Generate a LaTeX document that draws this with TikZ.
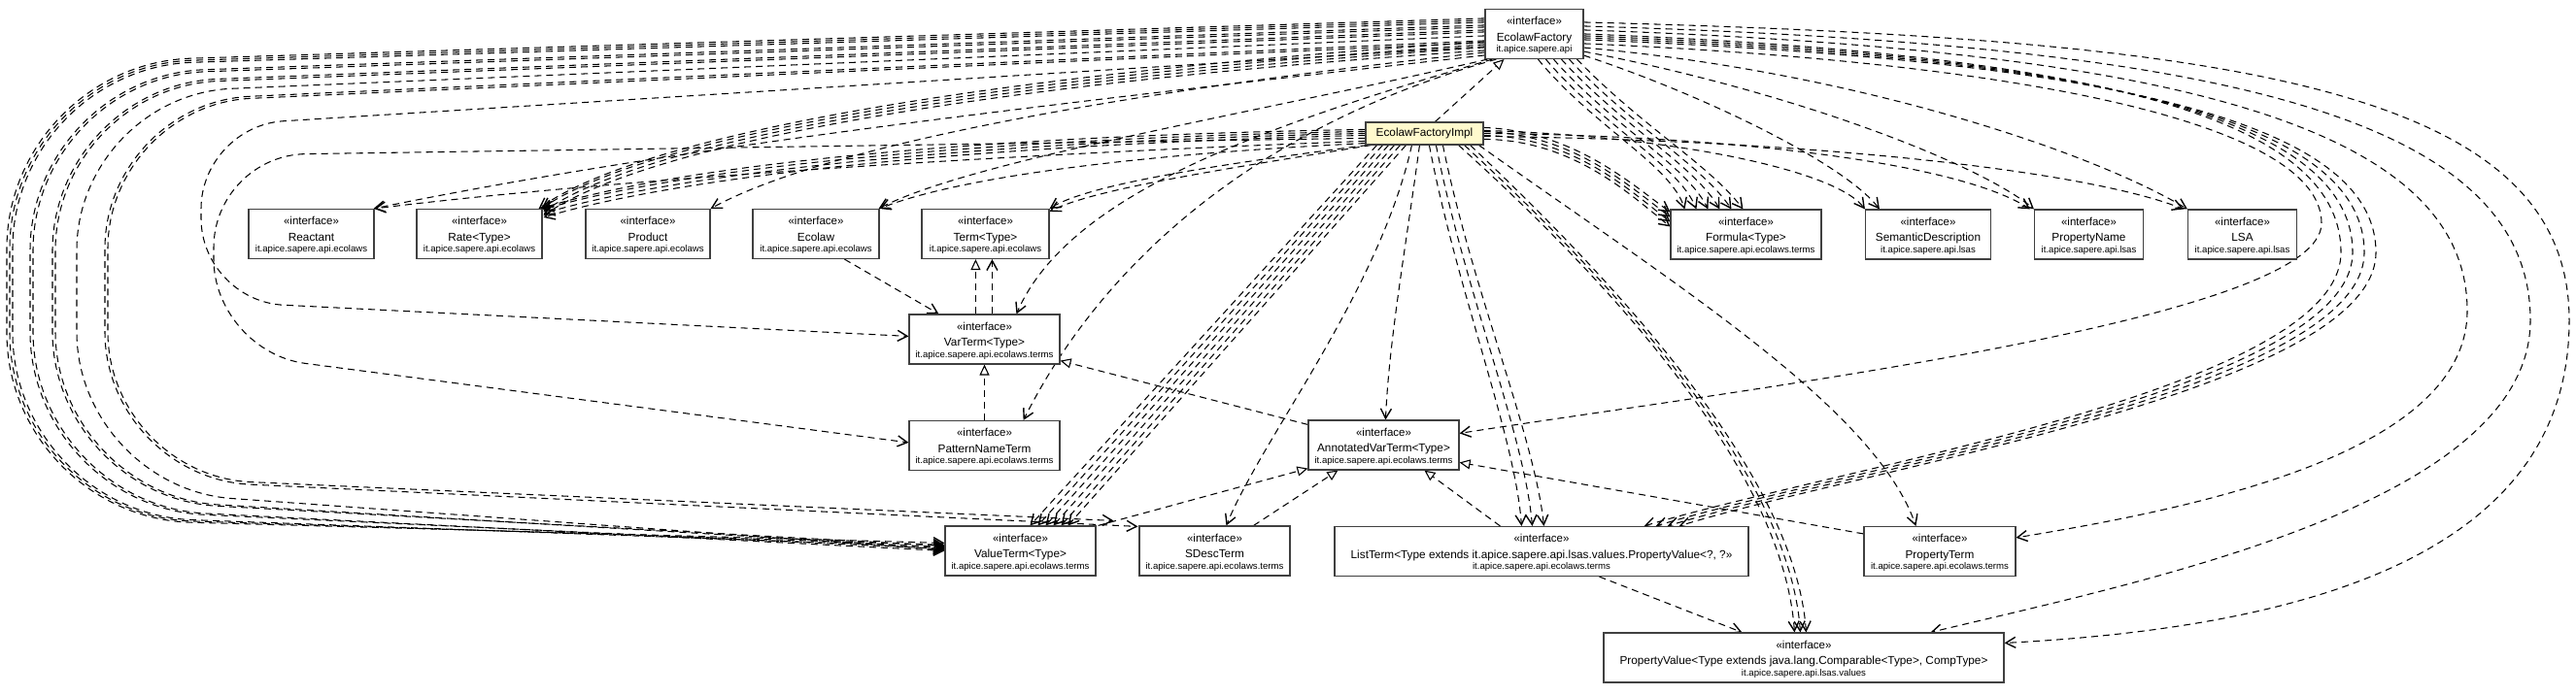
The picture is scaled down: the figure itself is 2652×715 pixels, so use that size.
\documentclass[tikz,border=0pt]{standalone}
\usepackage{fontspec}
\setmainfont{Liberation Sans}
\usetikzlibrary{arrows.meta,calc,backgrounds}
\definecolor{boxc}{rgb}{0.25,0.25,0.25}
\definecolor{implc}{RGB}{255,250,205}
\tikzset{
 ibox/.style={draw=boxc, line width=1.15pt, fill=white, rectangle, minimum height=51pt, inner sep=0pt},
 stx/.style={anchor=base, inner sep=0pt, font=\fontsize{11.5}{13}\selectfont},
 nmx/.style={anchor=base, inner sep=0pt, font=\fontsize{11.8}{13}\selectfont},
 pkx/.style={anchor=base, inner sep=0pt, font=\fontsize{9.6}{11}\selectfont},
 dep/.style={line width=1.05pt, dash pattern=on 7pt off 5pt, -{Straight Barb[length=10pt,width=11pt,line width=1.4pt]}},
 real/.style={line width=1.05pt, dash pattern=on 7pt off 5pt, -{Triangle[open,length=11pt,width=10pt,line width=1.1pt,fill=white]}},
}
\newcommand\ifc[6]{%
 \node[ibox, minimum width=#4pt] (#1) at (#2,#3) {};
 \node[stx] (#1-s) at ($(#1.north)+(0,17)$) {«interface»};
 \node[nmx] (#1-n) at ($(#1.north)+(0,33.3)$) {#5};
 \node[pkx] (#1-p) at ($(#1.north)+(0,44.6)$) {#6};
}
\begin{document}
\begin{tikzpicture}[x=1pt,y=-1pt]
\useasboundingbox (0,0) rectangle (2652,715);
% ---------- nodes ----------
\ifc{EF}{1579.5}{35}{101}{EcolawFactory}{it.apice.sapere.api}
\node[draw=boxc, line width=1.15pt, fill=implc, minimum width=121pt, minimum height=23pt, inner sep=0pt, font=\fontsize{11.8}{13}\selectfont] (Impl) at (1466.5,137.5) {EcolawFactoryImpl};
\ifc{Reactant}{320.5}{241}{129}{Reactant}{it.apice.sapere.api.ecolaws}
\ifc{Rate}{493.5}{241}{129}{Rate<Type>}{it.apice.sapere.api.ecolaws}
\ifc{Product}{667}{241}{128}{Product}{it.apice.sapere.api.ecolaws}
\ifc{Ecolaw}{840}{241}{130}{Ecolaw}{it.apice.sapere.api.ecolaws}
\ifc{Term}{1014.5}{241}{131}{Term<Type>}{it.apice.sapere.api.ecolaws}
\ifc{Formula}{1797.5}{241.5}{155}{Formula<Type>}{it.apice.sapere.api.ecolaws.terms}
\ifc{SemDesc}{1985}{241.5}{129}{SemanticDescription}{it.apice.sapere.api.lsas}
\ifc{PropName}{2150.5}{241.5}{112}{PropertyName}{it.apice.sapere.api.lsas}
\ifc{LSA}{2308.5}{241.5}{112}{LSA}{it.apice.sapere.api.lsas}
\ifc{VarTerm}{1013.5}{349.5}{155}{VarTerm<Type>}{it.apice.sapere.api.ecolaws.terms}
\ifc{PNT}{1013.5}{459}{155}{PatternNameTerm}{it.apice.sapere.api.ecolaws.terms}
\ifc{AVT}{1424.5}{458.5}{155}{AnnotatedVarTerm<Type>}{it.apice.sapere.api.ecolaws.terms}
\ifc{ValueTerm}{1050.5}{567.5}{155}{ValueTerm<Type>}{it.apice.sapere.api.ecolaws.terms}
\ifc{SDescTerm}{1250.5}{567.5}{155}{SDescTerm}{it.apice.sapere.api.ecolaws.terms}
\ifc{ListTerm}{1587}{568}{426}{ListTerm<Type extends it.apice.sapere.api.lsas.values.PropertyValue<?, ?>>}{it.apice.sapere.api.ecolaws.terms}
\ifc{PropTerm}{1997}{568}{156}{PropertyTerm}{it.apice.sapere.api.ecolaws.terms}
\ifc{PV}{1857}{677.5}{412}{PropertyValue<Type extends java.lang.Comparable<Type>, CompType>}{it.apice.sapere.api.lsas.values}
% ---------- edges ----------
\begin{pgfonlayer}{background}
\fill[white] (0,0) rectangle (2652,715);
% realization and inheritance
\draw[real] ($(Impl.north west)+(72,0)$) -- ($(EF.south west)+(20,0)$);
\draw[real] ($(VarTerm.north west)+(69,0)$) -- ($(Term.south west)+(56,0)$);
\draw[dep] ($(VarTerm.north west)+(86,0)$) -- ($(Term.south west)+(73,0)$);
\draw[real] (PNT.north) -- (VarTerm.south);
\draw[real] ($(AVT.north west)+(0,5)$) -- ($(VarTerm.south east)+(0,-4)$);
\draw[real] ($(ValueTerm.north east)+(2,0)$) -- ($(AVT.south west)+(0,-2)$);
\draw[real] ($(SDescTerm.north east)+(-38,0)$) -- ($(AVT.south west)+(31,0)$);
\draw[real] ($(ListTerm.north west)+(171,0)$) -- ($(AVT.south west)+(120,0)$);
\draw[real] ($(PropTerm.north west)+(0,8)$) -- ($(AVT.north east)+(0,44)$);
\draw[dep] ($(Ecolaw.south west)+(95,0)$) -- ($(VarTerm.north west)+(31,0)$);
\draw[dep] ($(ListTerm.south west)+(273,0)$) -- ($(PV.north west)+(143,0)$);
% top-left dependencies
\draw[dep] ($(EF.north west)+(0,48)$) .. controls (1100,105) and (700,150) .. ($(Reactant.north east)+(-1,0)$);
\draw[dep] ($(Impl.north west)+(0,20)$) .. controls (1000,160) and (600,188) .. (Reactant.north east);
\draw[dep] ($(EF.north west)+(0,34)$) .. controls (1000,78) and (660,140) .. ($(Rate.north east)+(-4,0)$);
\draw[dep] ($(EF.north west)+(0,37)$) .. controls (1000,81) and (662,143) .. ($(Rate.north east)+(-1,0)$);
\draw[dep] ($(EF.north west)+(0,40)$) .. controls (1000,84) and (664,146) .. ($(Rate.north east)+(1,3)$);
\draw[dep] ($(EF.north west)+(0,43)$) .. controls (1000,87) and (666,149) .. ($(Rate.north east)+(1,7)$);
\draw[dep] ($(Impl.north west)+(0,8)$) .. controls (1000,140) and (700,170) .. ($(Rate.north east)+(-2,0)$);
\draw[dep] ($(Impl.north west)+(0,10)$) .. controls (1000,143) and (700,174) .. ($(Rate.north east)+(0,1)$);
\draw[dep] ($(Impl.north west)+(0,12)$) .. controls (1000,146) and (700,178) .. ($(Rate.north east)+(1,5)$);
\draw[dep] ($(Impl.north west)+(0,14)$) .. controls (1000,149) and (700,182) .. ($(Rate.north east)+(1,9)$);
\draw[dep] ($(EF.north west)+(0,45)$) .. controls (1150,95) and (850,150) .. (Product.north east);
\draw[dep] ($(EF.south west)+(3,0)$) .. controls (1300,115) and (1000,165) .. ($(Ecolaw.north east)+(-1,0)$);
\draw[dep] ($(Impl.south west)+(0,-2)$) .. controls (1150,160) and (980,185) .. (Ecolaw.north east);
\draw[dep] ($(Impl.south west)+(2,0)$) .. controls (1250,170) and (1120,190) .. (Term.north east);
\draw[dep] ($(Impl.south west)+(6,0)$) .. controls (1255,175) and (1125,195) .. ($(Term.north east)+(0,3)$);
\draw[dep] ($(EF.south west)+(8,0)$) .. controls (1300,130) and (1100,200) .. ($(VarTerm.north west)+(111,0)$);
\draw[dep] ($(EF.south west)+(12,0)$) .. controls (1260,140) and (1120,300) .. ($(PNT.north east)+(-38,0)$);
% big left loops
\draw[dep, rounded corners=190pt] ($(EF.north west)+(0,10)$) -- (7,66) -- (7,533) -- ($(ValueTerm.north west)+(0,18)$);
\draw[dep, rounded corners=188pt] ($(EF.north west)+(0,12)$) -- (10,68) -- (10,531) -- ($(ValueTerm.north west)+(0,20)$);
\draw[dep, rounded corners=186pt] ($(EF.north west)+(0,14)$) -- (13,70) -- (13,529) -- ($(ValueTerm.north west)+(0,22)$);
\draw[dep, rounded corners=180pt] ($(EF.north west)+(0,17)$) -- (31,78) -- (31,522) -- ($(ValueTerm.north west)+(0,24)$);
\draw[dep, rounded corners=178pt] ($(EF.north west)+(0,19)$) -- (34,80) -- (34,520) -- ($(ValueTerm.north west)+(0,26)$);
\draw[dep, rounded corners=170pt] ($(EF.north west)+(0,22)$) -- (54,88) -- (54,512) -- ($(ValueTerm.north west)+(0,21)$);
\draw[dep, rounded corners=168pt] ($(EF.north west)+(0,24)$) -- (57,90) -- (57,510) -- ($(ValueTerm.north west)+(0,23)$);
\draw[dep, rounded corners=160pt] ($(EF.north west)+(0,28)$) -- (79,98) -- (79,502) -- ($(ValueTerm.north west)+(0,25)$);
\draw[dep, rounded corners=150pt] ($(EF.north west)+(0,33)$) -- (108,106) -- (108,492) -- ($(SDescTerm.north west)+(-1,1)$);
\draw[dep, rounded corners=148pt] ($(EF.north west)+(0,35)$) -- (111,108) -- (111,490) -- ($(SDescTerm.north west)+(-26,-5)$);
\draw[dep, rounded corners=85pt] ($(EF.north west)+(0,39)$) -- (207,130) -- (207,310) -- ($(VarTerm.north west)+(0,23)$);
\draw[dep, rounded corners=95pt] ($(Impl.north west)+(0,17)$) -- (220,160) -- (220,362) -- ($(PNT.north west)+(0,23)$);
% Impl downwards
\draw[dep] ($(Impl.south west)+(12,0)$) -- ($(ValueTerm.north west)+(88,0)$);
\draw[dep] ($(Impl.south west)+(18,0)$) -- ($(ValueTerm.north west)+(96,0)$);
\draw[dep] ($(Impl.south west)+(24,0)$) -- ($(ValueTerm.north west)+(104,0)$);
\draw[dep] ($(Impl.south west)+(30,0)$) -- ($(ValueTerm.north west)+(112,0)$);
\draw[dep] ($(Impl.south west)+(36,0)$) -- ($(ValueTerm.north west)+(120,0)$);
\draw[dep] ($(Impl.south west)+(42,0)$) -- ($(ValueTerm.north west)+(127,0)$);
\draw[dep] ($(Impl.south west)+(48,0)$) .. controls (1420,300) and (1300,450) .. ($(SDescTerm.north west)+(90,0)$);
\draw[dep] ($(Impl.south west)+(56,0)$) .. controls (1448,250) and (1430,350) .. ($(AVT.north west)+(80,0)$);
\draw[dep] ($(Impl.south west)+(66,0)$) .. controls (1500,300) and (1560,450) .. ($(ListTerm.north west)+(193,0)$);
\draw[dep] ($(Impl.south west)+(73,0)$) .. controls (1508,300) and (1570,450) .. ($(ListTerm.north west)+(204,0)$);
\draw[dep] ($(Impl.south west)+(80,0)$) .. controls (1516,300) and (1580,450) .. ($(ListTerm.north west)+(216,0)$);
\draw[dep] ($(Impl.south east)+(-26,0)$) .. controls (1646,280) and (1836,480) .. ($(PV.north west)+(197,0)$);
\draw[dep] ($(Impl.south east)+(-20,0)$) .. controls (1653,284) and (1842,484) .. ($(PV.north west)+(203,0)$);
\draw[dep] ($(Impl.south east)+(-14,0)$) .. controls (1660,288) and (1848,488) .. ($(PV.north west)+(209,0)$);
\draw[dep] ($(Impl.south east)+(-5,0)$) .. controls (1720,290) and (1930,420) .. ($(PropTerm.north west)+(54,0)$);
% Impl and EF to the right row
\foreach \k in {0,1,2,3}{
 \draw[dep] ($(Impl.north east)+(0,{6+4*\k})$) .. controls (1620,{135+3*\k}) and (1680,{190+4*\k}) .. ($(Formula.north west)+(0,{3+5*\k})$);
}
\foreach \k in {0,1,2,3,4,5}{
 \draw[dep] ($(EF.south west)+({55+8*\k},0)$) .. controls ({1640+10*\k},130) and ({1720+8*\k},170) .. ($(Formula.north west)+({15+12*\k},0)$);
}
\draw[dep] ($(EF.south east)+(0,-4)$) .. controls (1760,100) and (1900,170) .. ($(SemDesc.north west)+(15,0)$);
\draw[dep] ($(Impl.north east)+(0,9)$) .. controls (1720,140) and (1890,175) .. ($(SemDesc.north west)+(0,0)$);
\draw[dep] ($(Impl.north east)+(0,12)$) .. controls (1800,140) and (2020,170) .. ($(PropName.north west)+(-4,0)$);
\draw[dep] ($(EF.south east)+(0,-8)$) .. controls (1850,95) and (2040,170) .. (PropName.north west);
\draw[dep] ($(Impl.north east)+(0,15)$) .. controls (1900,145) and (2160,180) .. ($(LSA.north west)+(-4,0)$);
\draw[dep] ($(EF.south east)+(0,-12)$) .. controls (1920,75) and (2160,160) .. (LSA.north west);
% right loops
\draw[dep] ($(EF.north east)+(0,14)$) .. controls (2300,40) and (2645,90) .. (2645,330) .. controls (2645,560) and (2400,645) .. ($(PV.north east)+(0,11)$);
\draw[dep] ($(EF.north east)+(0,18)$) .. controls (2250,45) and (2605,110) .. (2605,330) .. controls (2605,520) and (2200,600) .. ($(PV.north east)+(-76,0)$);
\draw[dep] ($(EF.north east)+(0,22)$) .. controls (2200,50) and (2540,120) .. (2540,320) .. controls (2540,470) and (2250,525) .. ($(PropTerm.north east)+(0,12)$);
\foreach \k in {0,1,2,3}{
 \draw[dep] ($(EF.north east)+(0,{26+2*\k})$) .. controls (2150,{55+2*\k}) and ({2410+12*\k},120) .. ({2410+12*\k},260) .. controls ({2410+12*\k},400) and ({1900+10*\k},480) .. ($(ListTerm.north east)+({-108+12*\k},0)$);
}
\draw[dep] ($(EF.north east)+(0,36)$) .. controls (2100,65) and (2390,130) .. (2390,230) .. controls (2390,330) and (1800,400) .. ($(AVT.north east)+(0,14)$);
\end{pgfonlayer}
\end{tikzpicture}
\end{document}
